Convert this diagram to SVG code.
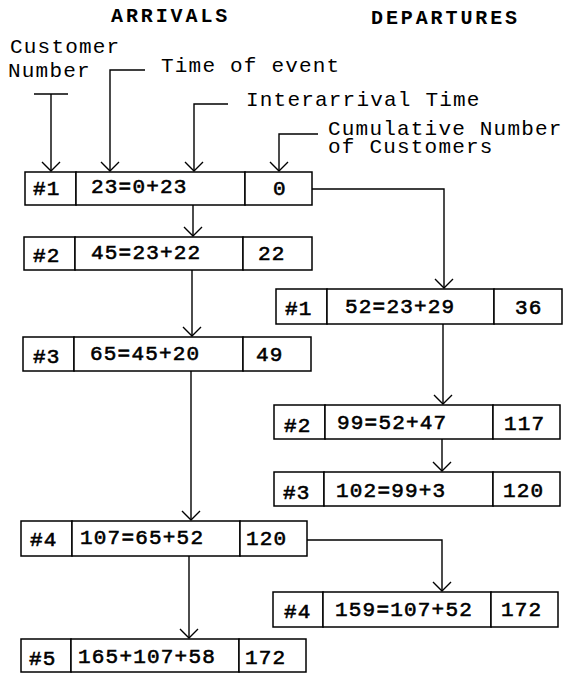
<svg xmlns="http://www.w3.org/2000/svg" width="565" height="674" viewBox="0 0 565 674">
<style>
  .cell { fill: #ffffff; stroke: #000000; stroke-width: 1.5; }
  .t { font-family: "Liberation Mono", "Courier New", monospace; font-size: 21px; letter-spacing: 1.2px; fill: #000000; }
  .b { stroke: #000000; stroke-width: 0.6; }
  .h { font-family: "Liberation Mono", "Courier New", monospace; font-size: 20px; font-weight: bold; letter-spacing: 2.9px; fill: #000000; }
  .ln { fill: none; stroke: #000000; stroke-width: 1.4; }
</style>
<defs>
  <marker id="arr" markerUnits="userSpaceOnUse" markerWidth="22" markerHeight="22" refX="10" refY="10" orient="auto" viewBox="0 0 22 22">
    <path d="M1,1 L10,10 L1,19" fill="none" stroke="#000000" stroke-width="1.4"/>
  </marker>
</defs>
<rect width="565" height="674" fill="#ffffff"/>

<g id="headings">
  <text class="h" x="111" y="22">ARRIVALS</text>
  <text class="h" x="371" y="24">DEPARTURES</text>
</g>

<g id="labels">
  <text class="t" x="10" y="53">Customer</text>
  <text class="t" x="8" y="77">Number</text>
  <text class="t" x="161" y="72">Time of event</text>
  <text class="t" x="246" y="106">Interarrival Time</text>
  <text class="t" x="328" y="135">Cumulative Number</text>
  <text class="t" x="328" y="153">of Customers</text>
</g>

<g id="annotation-lines">
  <path class="ln" d="M34,94 H68"/>
  <path class="ln" d="M51,94 V171" marker-end="url(#arr)"/>
  <path class="ln" d="M145,70 H110 V171" marker-end="url(#arr)"/>
  <path class="ln" d="M228,104 H194 V171" marker-end="url(#arr)"/>
  <path class="ln" d="M318,134 H279 V171" marker-end="url(#arr)"/>
</g>

<g id="connectors">
  <path class="ln" d="M193,205 V236" marker-end="url(#arr)"/>
  <path class="ln" d="M192,270 V336" marker-end="url(#arr)"/>
  <path class="ln" d="M191,371 V520" marker-end="url(#arr)"/>
  <path class="ln" d="M189,556 V638" marker-end="url(#arr)"/>
  <path class="ln" d="M312,189 H444 V288" marker-end="url(#arr)"/>
  <path class="ln" d="M443,324 V404" marker-end="url(#arr)"/>
  <path class="ln" d="M442,439 V471" marker-end="url(#arr)"/>
  <path class="ln" d="M307,540 H442 V591" marker-end="url(#arr)"/>
</g>

<g id="arrival-1">
  <rect class="cell" x="25" y="172" width="51" height="33"/>
  <rect class="cell" x="76" y="172" width="169" height="33"/>
  <rect class="cell" x="245" y="172" width="67" height="33"/>
  <text class="t b" x="33" y="195">#1</text>
  <text class="t b" x="91" y="193">23=0+23</text>
  <text class="t b" x="273" y="195">0</text>
</g>

<g id="arrival-2">
  <rect class="cell" x="24" y="237" width="51" height="33"/>
  <rect class="cell" x="75" y="237" width="168" height="33"/>
  <rect class="cell" x="243" y="237" width="69" height="33"/>
  <text class="t b" x="33" y="262">#2</text>
  <text class="t b" x="91" y="259">45=23+22</text>
  <text class="t b" x="258" y="260">22</text>
</g>

<g id="arrival-3">
  <rect class="cell" x="23" y="337" width="51" height="34"/>
  <rect class="cell" x="74" y="337" width="169" height="34"/>
  <rect class="cell" x="243" y="337" width="68" height="34"/>
  <text class="t b" x="33" y="363">#3</text>
  <text class="t b" x="90" y="360">65=45+20</text>
  <text class="t b" x="256" y="361">49</text>
</g>

<g id="arrival-4">
  <rect class="cell" x="21" y="521" width="51" height="35"/>
  <rect class="cell" x="72" y="521" width="168" height="35"/>
  <rect class="cell" x="240" y="521" width="67" height="35"/>
  <text class="t b" x="30" y="546">#4</text>
  <text class="t b" x="80" y="544">107=65+52</text>
  <text class="t b" x="246" y="545">120</text>
</g>

<g id="arrival-5">
  <rect class="cell" x="21" y="639" width="50" height="33"/>
  <rect class="cell" x="71" y="639" width="168" height="33"/>
  <rect class="cell" x="239" y="639" width="67" height="33"/>
  <text class="t b" x="29" y="665">#5</text>
  <text class="t b" x="78" y="663">165+107+58</text>
  <text class="t b" x="245" y="664">172</text>
</g>

<g id="departure-1">
  <rect class="cell" x="276" y="289" width="51" height="35"/>
  <rect class="cell" x="327" y="289" width="167" height="35"/>
  <rect class="cell" x="494" y="289" width="68" height="35"/>
  <text class="t b" x="285" y="315">#1</text>
  <text class="t b" x="345" y="313">52=23+29</text>
  <text class="t b" x="515" y="314">36</text>
</g>

<g id="departure-2">
  <rect class="cell" x="274" y="405" width="51" height="34"/>
  <rect class="cell" x="325" y="405" width="168" height="34"/>
  <rect class="cell" x="493" y="405" width="67" height="34"/>
  <text class="t b" x="284" y="432">#2</text>
  <text class="t b" x="337" y="429">99=52+47</text>
  <text class="t b" x="504" y="430">117</text>
</g>

<g id="departure-3">
  <rect class="cell" x="274" y="472" width="50" height="34"/>
  <rect class="cell" x="324" y="472" width="169" height="34"/>
  <rect class="cell" x="493" y="472" width="67" height="34"/>
  <text class="t b" x="283" y="499">#3</text>
  <text class="t b" x="336" y="497">102=99+3</text>
  <text class="t b" x="503" y="497">120</text>
</g>

<g id="departure-4">
  <rect class="cell" x="273" y="592" width="50" height="35"/>
  <rect class="cell" x="323" y="592" width="168" height="35"/>
  <rect class="cell" x="491" y="592" width="67" height="35"/>
  <text class="t b" x="284" y="618">#4</text>
  <text class="t b" x="335" y="616">159=107+52</text>
  <text class="t b" x="501" y="616">172</text>
</g>
</svg>
